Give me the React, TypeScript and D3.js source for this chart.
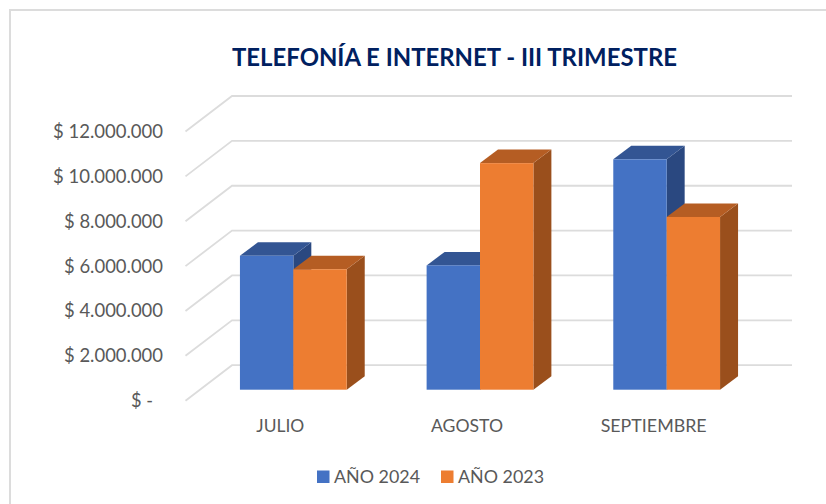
import React from "react";
import * as d3 from "d3";

const categories = ["JULIO", "AGOSTO", "SEPTIEMBRE"];
const seriesNames = ["AÑO 2024", "AÑO 2023"];
const values2024 = [5970000, 5540000, 10270000];
const values2023 = [5370000, 10100000, 7700000];
const ticks = [0, 2000000, 4000000, 6000000, 8000000, 10000000, 12000000];
const tickLabels = ["$ -", "$ 2.000.000", "$ 4.000.000", "$ 6.000.000", "$ 8.000.000", "$ 10.000.000", "$ 12.000.000"];
const tickWidths = [22, 99, 99, 99, 99, 110, 110];
const catWidths = [48, 72, 106];
const fronts = ["#4472c4", "#ed7d31"];
const tops = ["#335593", "#b55d23"];
const sides = ["#2a4880", "#9a4f1c"];
const FONT = "Lato, 'Open Sans', sans-serif";

const y = d3.scaleLinear().domain([0, 12000000]).range([400.7, 131.5]);
const x0 = d3.scaleBand<string>().domain(categories).range([200, 760]).paddingInner(0.428).paddingOuter(0.214);
const x1 = d3.scaleBand<string>().domain(seriesNames).range([0, x0.bandwidth()]);
const wallDx = 46.5, wallDy = 35.5, barDx = 18, barDy = 13.5, barInset = 11;
const rows = [values2024, values2023];

export default function App() {
  const poly = (pts: number[][]) => pts.map((p) => p.join(",")).join(" ");
  const baseY = y(0) - barInset;
  return (
    <svg width={826} height={504} style={{ position: "absolute", left: 0, top: 0, background: "#fff" }}>
      <path d="M10,504 V10 H826" fill="none" stroke="#dcdcdc" strokeWidth={2} />
      <text x={454.5} y={66} fontFamily={FONT} fontWeight={700} fontSize={25} fill="#002060"
        textLength={445} lengthAdjust="spacingAndGlyphs" textAnchor="middle">TELEFONÍA E INTERNET - III TRIMESTRE</text>
      {ticks.map((t) => (
        <path key={t} d={`M${185.5},${y(t)} L${185.5 + wallDx},${y(t) - wallDy} H792`} fill="none" stroke="#dcdcdc" strokeWidth={1.8} />
      ))}
      {ticks.map((t, i) => (
        <text key={t} x={i === 0 ? 153 : 163} y={y(t) + 6.5} fontFamily={FONT} fontSize={19} fill="#595959"
          textAnchor="end" textLength={tickWidths[i]} lengthAdjust="spacingAndGlyphs">{tickLabels[i]}</text>
      ))}
      {categories.map((c, ci) =>
        seriesNames.map((s, si) => {
          const l = x0(c)! + x1(s)!;
          const r = l + x1.bandwidth();
          const t = y(rows[si][ci]) - barInset;
          return (
            <g key={c + s}>
              <polygon points={poly([[r, t], [r + barDx, t - barDy], [r + barDx, baseY - barDy], [r, baseY]])} fill={sides[si]} />
              <polygon points={poly([[l, t], [l + barDx, t - barDy], [r + barDx, t - barDy], [r, t]])} fill={tops[si]} />
              <rect x={l} y={t} width={r - l} height={baseY - t} fill={fronts[si]} />
            </g>
          );
        })
      )}
      {categories.map((c, i) => (
        <text key={c} x={x0(c)! + x0.bandwidth() / 2 - 13} y={431.5} fontFamily={FONT} fontSize={17} fill="#595959"
          textAnchor="middle" textLength={catWidths[i]} lengthAdjust="spacingAndGlyphs">{c}</text>
      ))}
      {seriesNames.map((s, i) => {
        const sx = d3.scaleOrdinal<string, number>().domain(seriesNames).range([317, 441])(s);
        return (
          <g key={s}>
            <rect x={sx} y={470.5} width={12.5} height={12.5} fill={fronts[i]} />
            <text x={sx + 17} y={483} fontFamily={FONT} fontSize={18} fill="#595959"
              textLength={86} lengthAdjust="spacingAndGlyphs">{s}</text>
          </g>
        );
      })}
    </svg>
  );
}
